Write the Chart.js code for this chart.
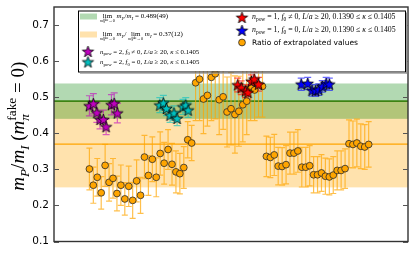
<!DOCTYPE html>
<html>
<head>
<meta charset="utf-8">
<script src="https://cdn.jsdelivr.net/npm/chart.js@4.4.0/dist/chart.umd.min.js"></script>
<style>
  html, body { margin: 0; padding: 0; background: #fff; }
</style>
</head>
<body>
<canvas id="chart" width="415" height="254"></canvas>
<script>
// ratio of extrapolated values (orange circles), x = point index
const ratioX = [0, 1, 2, 3, 4, 5, 6, 7, 8, 9, 10, 11, 12, 13, 14, 15, 16, 17, 18, 19, 20, 21, 22, 23,
  24, 25, 26, 27, 28, 29, 30, 31, 32, 33, 34, 35, 36, 37, 38, 39, 40, 41, 42, 43, 44, 45, 46, 47,
  48, 49, 50, 51, 52, 53, 54, 55, 56, 57, 58, 59, 60, 61, 62, 63, 64, 65, 66, 67, 68, 69, 70, 71];
const ratioVal = [0.301, 0.256, 0.278, 0.235, 0.311, 0.264, 0.275, 0.233, 0.256, 0.218, 0.253, 0.214,
  0.268, 0.228, 0.334, 0.283, 0.328, 0.278, 0.344, 0.317, 0.355, 0.314, 0.293, 0.288,
  0.305, 0.382, 0.373, 0.540, 0.550, 0.495, 0.505, 0.555, 0.565, 0.493, 0.501, 0.459,
  0.468, 0.452, 0.461, 0.479, 0.489, 0.525, 0.520, 0.535, 0.530, 0.336, 0.333, 0.340,
  0.309, 0.308, 0.313, 0.345, 0.345, 0.351, 0.306, 0.306, 0.310, 0.285, 0.285, 0.290,
  0.281, 0.279, 0.284, 0.297, 0.297, 0.302, 0.371, 0.369, 0.373, 0.364, 0.362, 0.369];
const ratioErr = [0.058, 0.050, 0.052, 0.045, 0.058, 0.052, 0.055, 0.048, 0.056, 0.045, 0.056, 0.050,
  0.058, 0.050, 0.060, 0.055, 0.062, 0.054, 0.060, 0.058, 0.055, 0.058, 0.058, 0.056,
  0.058, 0.050, 0.049, 0.105, 0.115, 0.096, 0.085, 0.120, 0.125, 0.097, 0.090, 0.097,
  0.100, 0.107, 0.097, 0.103, 0.093, 0.090, 0.085, 0.090, 0.085, 0.056, 0.056, 0.057,
  0.052, 0.052, 0.053, 0.058, 0.058, 0.059, 0.055, 0.055, 0.056, 0.050, 0.050, 0.051,
  0.050, 0.050, 0.051, 0.054, 0.054, 0.055, 0.066, 0.065, 0.066, 0.062, 0.062, 0.063];

// n_pow = 2, f0 != 0 (magenta)
const magX = [0, 1, 1.9, 2.7, 3.55, 4.25, 5.6, 6.3, 7.1];
const magVal = [0.476, 0.482, 0.457, 0.438, 0.438, 0.418, 0.479, 0.483, 0.456];
const magErr = [0.028, 0.028, 0.027, 0.026, 0.026, 0.022, 0.028, 0.029, 0.027];

// n_pow = 2, f0 = 0 (cyan)
const cyanX = [17.9, 18.8, 19.6, 20.5, 21.5, 22.3, 23.8, 24.5, 25.1];
const cyanVal = [0.478, 0.484, 0.469, 0.450, 0.456, 0.441, 0.473, 0.478, 0.464];
const cyanErr = [0.021, 0.021, 0.02, 0.02, 0.02, 0.02, 0.021, 0.021, 0.02];

// n_pow = 1, f0 != 0 (red)
const redX = [37.7, 38.6, 39.7, 40.3, 41.2, 41.9, 43.0];
const redVal = [0.534, 0.526, 0.517, 0.513, 0.544, 0.550, 0.536];
const redErr = [0.019, 0.019, 0.018, 0.018, 0.018, 0.018, 0.019];

// n_pow = 1, f0 = 0 (blue)
const blueX = [53.85, 55.5, 56.6, 57.5, 58.3, 59.2, 60.2, 61.0];
const blueVal = [0.536, 0.538, 0.519, 0.518, 0.521, 0.530, 0.538, 0.536];
const blueErr = [0.017, 0.017, 0.016, 0.016, 0.016, 0.016, 0.017, 0.017];

// bands: [central value, error]
const limOfRatio = [0.489, 0.049];
const ratioOfLims = [0.37, 0.12];

const yTicks = [0.1, 0.2, 0.3, 0.4, 0.5, 0.6, 0.7];

const serif = '"Liberation Serif", "DejaVu Serif", serif';
const sans = '"DejaVu Sans", sans-serif';

function starImage(fill, r) {
  const c = document.createElement("canvas");
  const s = Math.ceil(r * 2 + 3);
  c.width = s;
  c.height = s;
  const g = c.getContext("2d");
  g.translate(s / 2, s / 2 + 0.5);
  g.beginPath();
  for (let k = 0; k < 10; k++) {
    const rr = k % 2 ? r * 0.4 : r;
    const ang = -Math.PI / 2 + k * Math.PI / 5;
    g.lineTo(rr * Math.cos(ang), rr * Math.sin(ang));
  }
  g.closePath();
  g.fillStyle = fill;
  g.fill();
  g.lineWidth = 0.8;
  g.strokeStyle = "#000";
  g.stroke();
  return c;
}

const magStar = starImage("#bf00bf", 6);
const cyanStar = starImage("#00bfbf", 6);
const redStar = starImage("#ff0000", 6);
const blueStar = starImage("#0000ff", 6);

// small math-ish text renderer: parts {t, i: italic, b: 'sub'|'sup', u: under parts, st: stacked sup}
function mathRun(ctx, parts, x, y, size, fam, draw) {
  let cx = x;
  for (const p of parts) {
    const fs = size * (p.b ? 0.7 : 1);
    const dy = p.b === "sub" ? size * 0.25 : p.b === "sup" ? -size * 0.4 : 0;
    const font = (p.i ? "italic " : "") + fs + "px " + fam;
    ctx.font = font;
    const tw = ctx.measureText(p.t).width;
    let adv = tw, uw = 0;
    if (p.u) {
      uw = mathRun(ctx, p.u, 0, 0, size * 0.62, fam, false);
      adv = Math.max(tw, uw);
    }
    if (p.st) {
      ctx.font = fs + "px " + fam;
      adv = Math.max(tw, ctx.measureText(p.st).width);
    }
    if (draw) {
      ctx.font = font;
      ctx.fillText(p.t, cx + (p.u ? (adv - tw) / 2 : 0), y + dy);
      if (p.u) mathRun(ctx, p.u, cx + (adv - uw) / 2, y + size * 0.62, size * 0.62, fam, true);
      if (p.st) {
        ctx.font = fs + "px " + fam;
        ctx.fillText(p.st, cx, y - size * 0.42);
      }
    }
    cx += adv;
  }
  return cx - x;
}

const limSub = [{ t: "m", i: true }, { t: "π", i: true, b: "sub", st: "fake" }, { t: "→0" }];
const legendRows = [
  [{ t: "lim", u: limSub }, { t: " " }, { t: "m", i: true }, { t: "P", i: true, b: "sub" }, { t: "/" },
    { t: "m", i: true }, { t: "I", i: true, b: "sub" }, { t: " = 0.489(49)" }],
  [{ t: "lim", u: limSub }, { t: " " }, { t: "m", i: true }, { t: "P", i: true, b: "sub" }, { t: "/ " },
    { t: "lim", u: limSub }, { t: " " }, { t: "m", i: true }, { t: "I", i: true, b: "sub" }, { t: " = 0.37(12)" }]
];
function powRow(n, f0, kappa) {
  const row = [{ t: "n", i: true }, { t: "pow", b: "sub" }, { t: " = " + n + ", " }, { t: "f", i: true },
    { t: "0", b: "sub" }, { t: " " + f0 + " 0, " }, { t: "L", i: true }, { t: "/" }, { t: "a", i: true },
    { t: " ≥ 20, " }];
  if (kappa) row.push({ t: "0.1390 ≤ " });
  row.push({ t: "κ", i: true }, { t: " ≤ 0.1405" });
  return row;
}

const overlay = {
  id: "overlay",
  beforeDatasetsDraw(chart) {
    const { ctx, chartArea: a, scales: { x, y } } = chart;
    ctx.save();
    ctx.beginPath();
    ctx.rect(a.left, a.top, a.right - a.left, a.bottom - a.top);
    ctx.clip();

    // bands
    const band = (v, col) => {
      const t = y.getPixelForValue(v[0] + v[1]);
      const b = y.getPixelForValue(v[0] - v[1]);
      ctx.fillStyle = col;
      ctx.fillRect(a.left, t, a.right - a.left, b - t);
    };
    band(ratioOfLims, "rgba(255,165,0,0.32)");
    band(limOfRatio, "rgba(0,128,0,0.3)");
    const hline = (v, col, w) => {
      const py = y.getPixelForValue(v);
      ctx.strokeStyle = col;
      ctx.lineWidth = w;
      ctx.beginPath();
      ctx.moveTo(a.left, py);
      ctx.lineTo(a.right, py);
      ctx.stroke();
    };
    hline(ratioOfLims[0], "#ffa500", 1.2);
    hline(limOfRatio[0], "rgba(40,120,0,0.85)", 1.8);

    // error bars
    const bars = (xs, vs, es, col, cap) => {
      ctx.strokeStyle = col;
      ctx.lineWidth = 1.2;
      ctx.beginPath();
      xs.forEach((xv, i) => {
        const px = x.getPixelForValue(xv);
        const t = y.getPixelForValue(vs[i] + es[i]);
        const b = y.getPixelForValue(vs[i] - es[i]);
        ctx.moveTo(px, t); ctx.lineTo(px, b);
        ctx.moveTo(px - cap, t); ctx.lineTo(px + cap, t);
        ctx.moveTo(px - cap, b); ctx.lineTo(px + cap, b);
      });
      ctx.stroke();
    };
    bars(ratioX, ratioVal, ratioErr, "rgba(255,165,0,0.7)", 3);
    bars(magX, magVal, magErr, "rgba(191,0,191,0.6)", 3.5);
    bars(cyanX, cyanVal, cyanErr, "rgba(0,191,191,0.6)", 3.5);
    bars(redX, redVal, redErr, "rgba(255,0,0,0.6)", 3.5);
    bars(blueX, blueVal, blueErr, "rgba(0,0,255,0.6)", 3.5);
    ctx.restore();
  },
  afterDraw(chart) {
    const { ctx, chartArea: a, scales: { y } } = chart;
    ctx.save();
    // frame and inward ticks
    ctx.strokeStyle = "#333";
    ctx.lineWidth = 1.4;
    ctx.strokeRect(a.left, a.top, a.right - a.left, a.bottom - a.top);
    ctx.lineWidth = 1;
    ctx.strokeStyle = "#555";
    ctx.beginPath();
    yTicks.forEach(v => {
      const py = Math.round(y.getPixelForValue(v)) + 0.5;
      ctx.moveTo(a.left, py); ctx.lineTo(a.left + 5, py);
      ctx.moveTo(a.right, py); ctx.lineTo(a.right - 5, py);
    });
    ctx.stroke();

    // legend box
    const lx = a.left + 24, ly = a.top + 3.5, lw = a.right - a.left - 27, lh = 61;
    ctx.fillStyle = "#fff";
    ctx.fillRect(lx, ly, lw, lh);
    ctx.strokeStyle = "#000";
    ctx.lineWidth = 1;
    ctx.strokeRect(lx + 0.5, ly + 0.5, lw, lh);
    ctx.fillStyle = "#999";
    ctx.fillRect(lx + lw + 1, ly + 2, 1.2, lh);
    ctx.fillRect(lx + 2, ly + lh + 1, lw, 1.2);

    ctx.fillStyle = "rgba(0,128,0,0.3)";
    ctx.fillRect(lx + 2, ly + 3, 17, 6);
    ctx.fillStyle = "rgba(255,165,0,0.32)";
    ctx.fillRect(lx + 2, ly + 21, 17, 6);
    ctx.drawImage(magStar, lx + 10 - magStar.width / 2, ly + 41 - magStar.height / 2);
    ctx.drawImage(cyanStar, lx + 10 - cyanStar.width / 2, ly + 51.5 - cyanStar.height / 2);
    ctx.drawImage(redStar, lx + 164 - redStar.width / 2, ly + 7 - redStar.height / 2);
    ctx.drawImage(blueStar, lx + 164 - blueStar.width / 2, ly + 20 - blueStar.height / 2);
    ctx.beginPath();
    ctx.arc(lx + 164, ly + 32, 3.4, 0, Math.PI * 2);
    ctx.fillStyle = "#ffa500";
    ctx.fill();
    ctx.strokeStyle = "#2b2b2b";
    ctx.lineWidth = 0.8;
    ctx.stroke();

    ctx.fillStyle = "#000";
    ctx.textBaseline = "alphabetic";
    mathRun(ctx, legendRows[0], lx + 22, ly + 7.5, 7, serif, true);
    mathRun(ctx, legendRows[1], lx + 22, ly + 25.5, 7, serif, true);
    mathRun(ctx, powRow(2, "≠", false), lx + 22, ly + 43, 6.8, serif, true);
    mathRun(ctx, powRow(2, "=", false), lx + 22, ly + 53.5, 6.8, serif, true);
    mathRun(ctx, powRow(1, "≠", true), lx + 174, ly + 8.5, 7.8, serif, true);
    mathRun(ctx, powRow(1, "=", true), lx + 174, ly + 21.5, 7.8, serif, true);
    ctx.font = "7.5px " + sans;
    ctx.fillText("Ratio of extrapolated values", lx + 174, ly + 34.5);

    // y axis title
    const title = [{ t: "m", i: true }, { t: "P", i: true, b: "sub" }, { t: "/" }, { t: "m", i: true },
      { t: "I", i: true, b: "sub" }, { t: " (" }, { t: "m", i: true }, { t: "π", i: true, b: "sub", st: "fake" },
      { t: " = 0)" }];
    const tsize = 19;
    const tw = mathRun(ctx, title, 0, 0, tsize, serif, false);
    ctx.translate(24, (a.top + a.bottom) / 2 + 2);
    ctx.rotate(-Math.PI / 2);
    mathRun(ctx, title, -tw / 2, 0, tsize, serif, true);
    ctx.restore();
  }
};

const toPoints = (xs, vs) => xs.map((xv, i) => ({ x: xv, y: vs[i] }));

new Chart(document.getElementById("chart"), {
  type: "scatter",
  data: {
    datasets: [
      { data: toPoints(ratioX, ratioVal), pointStyle: "circle", pointRadius: 3.4, backgroundColor: "#ffa500",
        borderColor: "#2b2b2b", borderWidth: 0.8, order: 5 },
      { data: toPoints(magX, magVal), pointStyle: magStar, pointRadius: 6, order: 1 },
      { data: toPoints(cyanX, cyanVal), pointStyle: cyanStar, pointRadius: 6, order: 1 },
      { data: toPoints(redX, redVal), pointStyle: redStar, pointRadius: 6, order: 1 },
      { data: toPoints(blueX, blueVal), pointStyle: blueStar, pointRadius: 6, order: 1 }
    ]
  },
  options: {
    responsive: false,
    animation: false,
    events: [],
    layout: { padding: { left: 0, top: 6.5, right: 7, bottom: 12.5 } },
    plugins: { legend: { display: false }, tooltip: { enabled: false } },
    scales: {
      x: { type: "linear", min: -9, max: 81, display: false },
      y: {
        min: 0.1,
        max: 0.75,
        afterFit: s => { s.width = 54; },
        afterBuildTicks: s => { s.ticks = yTicks.map(v => ({ value: v })); },
        ticks: { padding: 0, color: "#000", font: { family: sans, size: 10.5 }, callback: v => v.toFixed(1) },
        grid: { display: false, drawTicks: true, tickLength: 5 },
        border: { display: false }
      }
    }
  },
  plugins: [overlay]
});
</script>
</body>
</html>
